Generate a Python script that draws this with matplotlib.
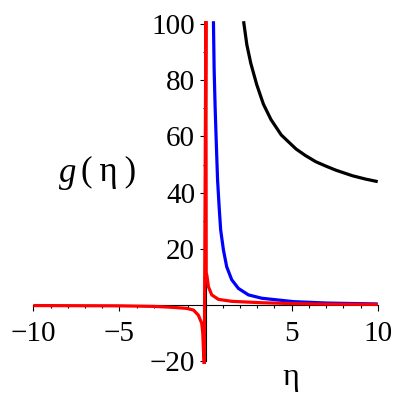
import matplotlib
matplotlib.use("Agg")
import matplotlib.pyplot as plt
from matplotlib.ticker import MultipleLocator, FixedLocator

plt.rcParams['font.family'] = ['Liberation Serif', 'DejaVu Serif']
plt.rcParams['mathtext.fontset'] = 'custom'
plt.rcParams['mathtext.it'] = 'Liberation Serif:italic'
plt.rcParams['mathtext.rm'] = 'Liberation Serif'

# values
black_eta = [2.21, 2.40, 2.63, 2.97, 3.36, 3.80, 4.40, 5.26, 5.80, 6.40, 7.00, 7.56, 8.53, 9.30, 10.0]
black_g = [101, 92.6, 86.0, 78.5, 71.5, 66.0, 60.5, 55.5, 53.2, 51.0, 49.4, 48.0, 46.0, 44.8, 43.9]

blue_eta = [0.46, 0.50, 0.56, 0.64, 0.70, 0.79, 0.88, 1.04, 1.23, 1.52, 1.91, 2.49, 3.27, 5.10, 7.00, 10.0]
blue_g = [101, 84, 70, 55, 44.5, 35, 26.7, 19.6, 13.6, 9.0, 5.9, 3.6, 2.4, 1.2, 0.7, 0.36]

red_eta = [-10, -5, -3, -2, -1.1, -0.7, -0.42, -0.22, -0.16, -0.12, -0.07,
           0.02, 0.04, 0.08, 0.17, 0.36, 0.75, 1.53, 3.27, 5, 7, 10]
red_g = [-0.2, -0.3, -0.5, -0.8, -1.2, -1.8, -3.6, -6.5, -10, -16, -21,
         101, 11.5, 10.5, 6.5, 3.6, 2.0, 1.3, 0.8, 0.5, 0.3, 0.2]

x_major = [-10, -5, 5, 10]
y_major = [-20, 20, 40, 60, 80, 100]

fig = plt.figure(figsize=(4, 4), dpi=100)
ax = fig.add_axes([0.0833, 0.09, 0.861, 0.857])
ax.set_xlim(-10, 10)
ax.set_ylim(-21, 101)

ax.plot(black_eta, black_g, color='black', lw=2.3, solid_capstyle='butt')
ax.plot(blue_eta, blue_g, color='blue', lw=2.3, solid_capstyle='butt')
ax.plot(red_eta, red_g, color='red', lw=2.3, solid_capstyle='butt', zorder=3)

for s in ['top', 'right']:
    ax.spines[s].set_visible(False)
ax.spines['left'].set_position(('data', 0))
ax.spines['bottom'].set_position(('data', 0))
ax.spines['left'].set_bounds(-20, 100)
ax.spines['left'].set_linewidth(0.8)
ax.spines['bottom'].set_linewidth(0.8)

ax.xaxis.set_major_locator(FixedLocator(x_major))
ax.xaxis.set_minor_locator(MultipleLocator(1))
ax.yaxis.set_major_locator(FixedLocator(y_major))
ax.yaxis.set_minor_locator(MultipleLocator(10))
ax.tick_params(which='major', direction='out', length=4.5, width=0.8, labelsize=21, pad=3)
ax.tick_params(axis='x', which='major', pad=7)
ax.tick_params(which='minor', direction='out', length=2.5, width=0.8)

fig.text(67 / 400, 1 - 175 / 400, '$g$', fontsize=25, ha='center', va='center')
fig.text(109 / 400, 1 - 172 / 400, '(\u2009η\u2009)', fontsize=25, ha='center', va='center')
fig.text(291 / 400, 1 - 378 / 400, 'η', fontsize=23, ha='center', va='center')

fig.savefig('out.png', dpi=100)
